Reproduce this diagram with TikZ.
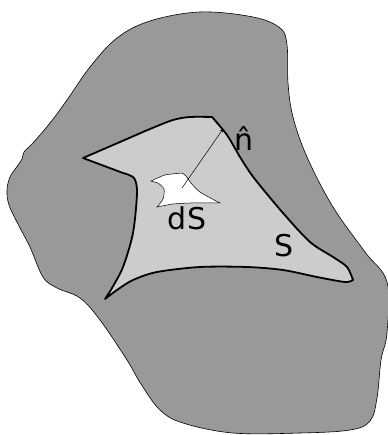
\documentclass[tikz,border=0pt]{standalone}
\usepackage{fontspec}
\setmainfont{DejaVu Sans}
\begin{document}
\begin{tikzpicture}[x=1pt,y=-1pt,
  outer/.style={fill=black!40,draw=black,line width=0.6pt},
  surf/.style={fill=black!20,draw=black,line width=1.8pt,line join=round},
  patch/.style={fill=white,draw=black,line width=0.5pt},
  lbl/.style={font=\fontsize{30}{36}\selectfont,inner sep=0pt}]
\useasboundingbox (0,0) rectangle (387,435);
% outer region
\draw[outer] plot[smooth cycle,tension=0.6] coordinates {
  (67,100) (90,67) (117,38) (150,21) (200,12) (253,17) (280,28) (287,45)
  (288,83) (293,117) (307,157) (333,207) (365,252) (387,282)
  (387,333) (381,360) (377,398) (370,421) (350,430) (300,433) (233,433)
  (183,423) (160,410) (141,384) (127,360) (100,320) (80,298) (57,288)
  (43,277) (30,247) (19,226) (9,205) (7,190) (10,177) (16,168) (22,159)
  (24,152) (33,143) (50,123)};
% surface S
\draw[surf]
  plot[smooth,tension=0.5] coordinates {(83,158) (120,142) (150,129) (173,120) (190,117) (212,117)}
  -- plot[smooth,tension=0.5] coordinates {(212,117) (227,135) (240,157) (254,178) (283,213) (310,242) (333,257) (347,267) (353,280)}
  -- plot[smooth,tension=0.5] coordinates {(353,280) (345,282) (317,277) (283,270) (247,267) (200,267) (157,272) (133,280) (117,290) (105,299)}
  -- plot[smooth,tension=0.5] coordinates {(105,299) (112,288) (123,267) (133,233) (137,193) (134,178) (123,173)}
  -- cycle;
% patch dS
\draw[patch] plot[smooth,tension=0.4] coordinates {(151,181) (165,175) (182,173)}
  -- plot[smooth,tension=0.5] coordinates {(182,173) (186,176) (191,183) (200,192) (220,203)}
  -- plot[smooth,tension=0.4] coordinates {(220,203) (207,203) (190,203) (173,204) (157,207)}
  -- plot[smooth,tension=0.5] coordinates {(157,207) (163,199) (164,189) (158,183)}
  -- cycle;
% normal vector
\coordinate (base) at (182,188);
\coordinate (tip) at (223,129);
\draw[-stealth,line width=0.5pt] (base) -- (tip);
\node[lbl] (nhat) at (244,139) {n̂};
\node[lbl] (dS) at (187,218) {dS};
\node[lbl] (S) at (284,246) {S};
\end{tikzpicture}
\end{document}
